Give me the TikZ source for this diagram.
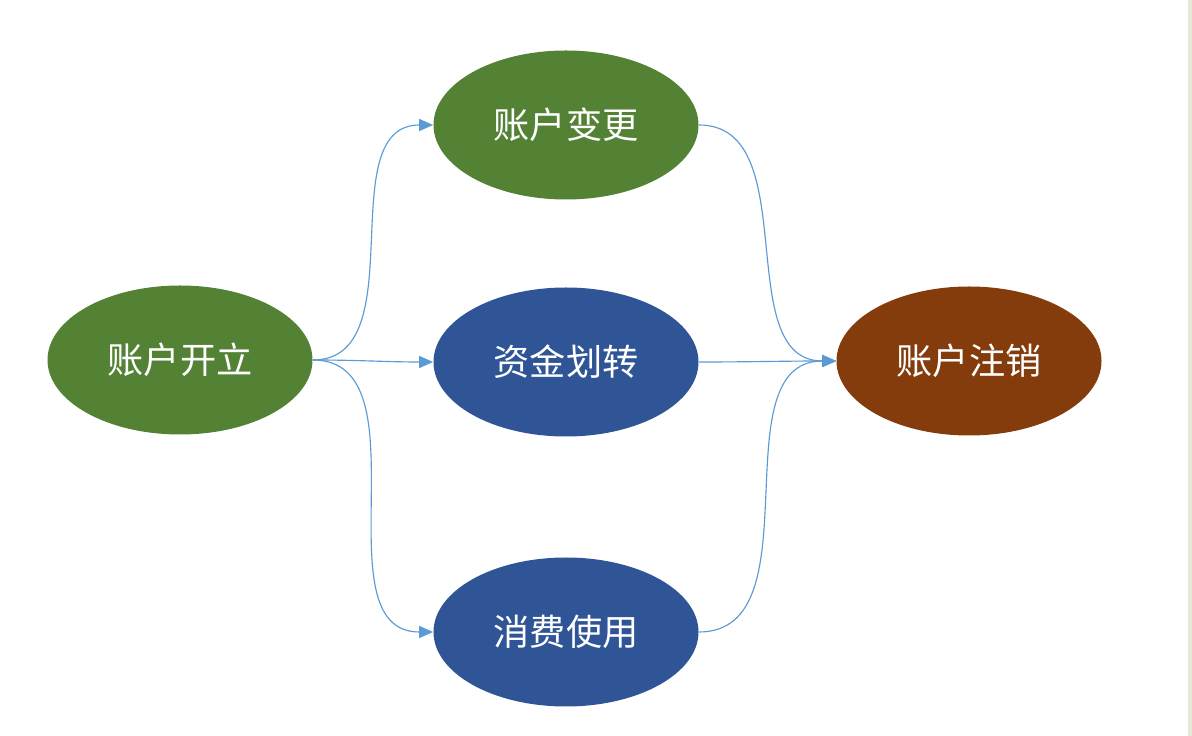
\documentclass[tikz,border=0pt]{standalone}
\usepackage{fontspec}
\newfontfamily\cjk{Noto Sans CJK SC}
\usepackage{xcolor}
\usepackage{tikz}
\usetikzlibrary{arrows.meta,shapes.geometric}
\definecolor{stepGreen}{HTML}{548235}
\definecolor{stepBlue}{HTML}{2F5597}
\definecolor{stepBrown}{HTML}{843C0C}
\definecolor{flowLine}{HTML}{5B9BD5}
\definecolor{edgeStrip}{HTML}{E6E9D6}
\tikzset{
  state/.style={ellipse,draw=none,inner sep=0pt,minimum width=5.3cm,minimum height=2.98cm,
    font=\cjk\fontsize{20.6}{24}\selectfont,text=white},
  flow/.style={flowLine,line width=0.65pt,-{Triangle[length=0.28cm,width=0.24cm]}}
}

\begin{document}
\begin{tikzpicture}
\useasboundingbox (0,0) rectangle (23.84,14.72);
\fill[white] (0,0) rectangle (23.84,14.72);
\fill[edgeStrip] (23.76,0) rectangle (23.84,14.72);
% account states
\node[state,fill=stepGreen] (open) at (3.60,7.52) {账户开立};
\node[state,fill=stepGreen] (change) at (11.32,12.22) {账户变更};
\node[state,fill=stepBlue] (transfer) at (11.32,7.48) {资金划转};
\node[state,fill=stepBlue] (consume) at (11.32,2.08) {消费使用};
\node[state,fill=stepBrown] (close) at (19.38,7.50) {账户注销};
% flows
\draw[flow] (open.east) to[out=0,in=180] (change.west);
\draw[flow] (open.east) to[out=0,in=180] (transfer.west);
\draw[flow] (open.east) to[out=0,in=180] (consume.west);
\draw[flow] (change.east) to[out=0,in=180] (close.west);
\draw[flow] (transfer.east) to[out=0,in=180] (close.west);
\draw[flow] (consume.east) to[out=0,in=180] (close.west);
\end{tikzpicture}
\end{document}
